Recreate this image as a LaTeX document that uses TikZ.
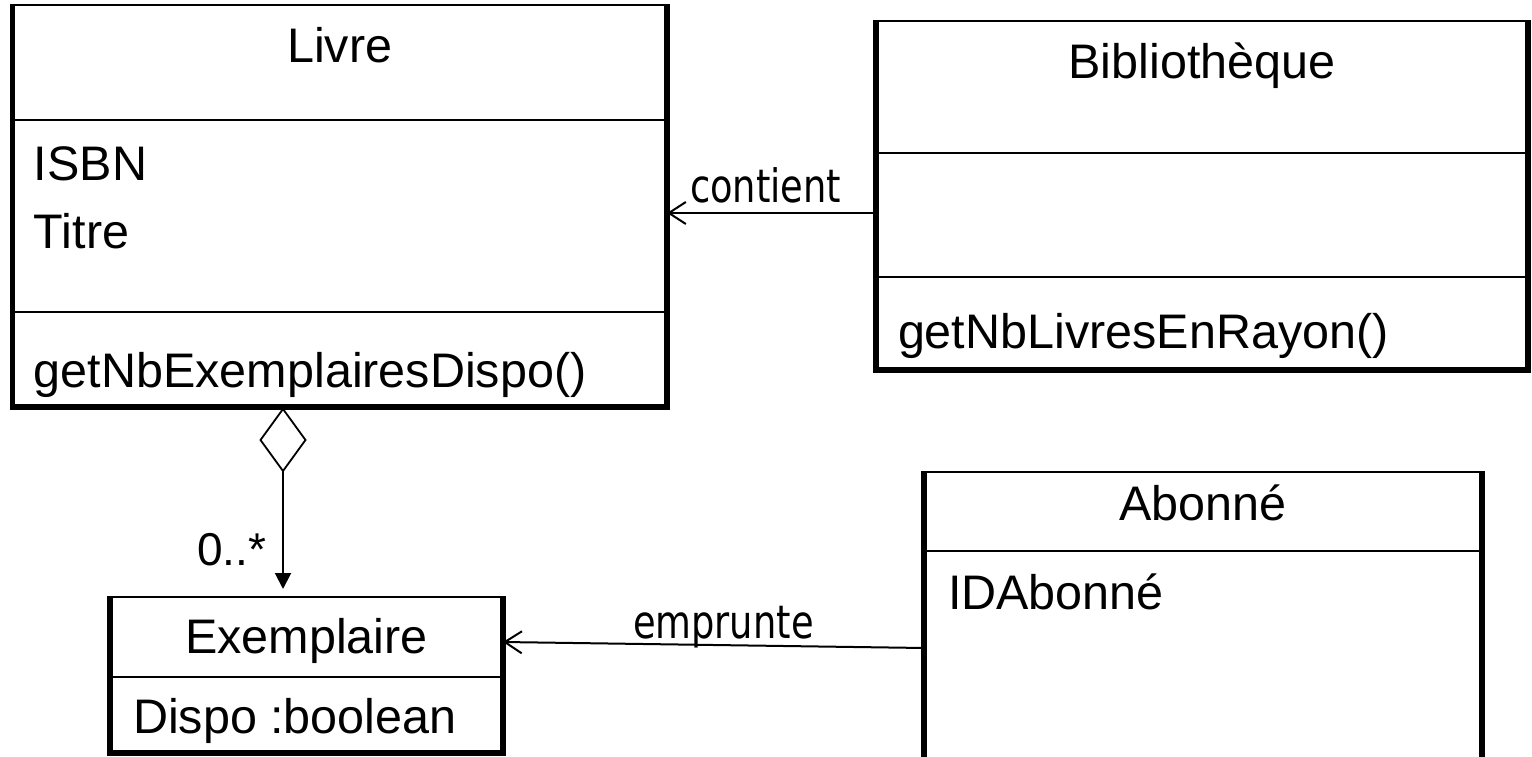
\documentclass[tikz,border=0pt]{standalone}
\usepackage{fontspec}
\setmainfont{Liberation Sans}
\newfontfamily\lblfont{DejaVu Sans}[FakeStretch=0.8]
\usetikzlibrary{arrows.meta,shapes.geometric}
\begin{document}
\begin{tikzpicture}[x=1pt,y=-1pt,
  classbox/.style={rectangle, inner sep=0pt, outer sep=0pt, draw=none},
  thinln/.style={line width=2pt},
  thickln/.style={line width=5.5pt, line join=miter},
  big/.style={font=\fontsize{48.5}{58}\selectfont, inner sep=0pt, outer sep=0pt},
  lbl/.style={font=\lblfont\fontsize{46}{54}\selectfont, inner sep=0pt, outer sep=0pt},
  mult/.style={font=\fontsize{46}{54}\selectfont, inner sep=0pt, outer sep=0pt},
  assoc/.style={line width=2pt, -{Straight Barb[length=17pt,width=22pt,line width=2pt]}},
  compo/.style={line width=2pt, -{Triangle[length=16pt,width=16pt]}},
  aggdiamond/.style={draw, diamond, minimum width=45pt, minimum height=62pt, inner sep=0pt, outer sep=0pt, line width=1.8pt}
]
\useasboundingbox[fill=white] (0,0) rectangle (1532,757);

% class boxes
\node[classbox, minimum width=654.5pt, minimum height=402pt] (livre) at (339.75,206) {};
\node[classbox, minimum width=652pt, minimum height=349pt] (biblio) at (1202,195.5) {};
\node[classbox, minimum width=393pt, minimum height=156pt] (exemplaire) at (306.5,675) {};
\node[classbox, minimum width=558pt, minimum height=285pt] (abonne) at (1203,614.5) {};

\foreach \n in {livre,biblio,exemplaire}{
  \draw[thinln] (\n.north west) -- (\n.north east);
  \draw[thickln] ([yshift=1pt]\n.north west) -- (\n.south west) -- (\n.south east) -- ([yshift=1pt]\n.north east);
}
\draw[thinln] (abonne.north west) -- (abonne.north east);
\draw[thickln] ([yshift=1pt]abonne.north west) -- (abonne.south west);
\draw[thickln] ([yshift=1pt]abonne.north east) -- (abonne.south east);

% compartment separators
\draw[thinln] (livre.west |- 0,120) -- (livre.east |- 0,120);
\draw[thinln] (livre.west |- 0,312) -- (livre.east |- 0,312);
\draw[thinln] (biblio.west |- 0,153) -- (biblio.east |- 0,153);
\draw[thinln] (biblio.west |- 0,277) -- (biblio.east |- 0,277);
\draw[thinln] (exemplaire.west |- 0,677) -- (exemplaire.east |- 0,677);
\draw[thinln] (abonne.west |- 0,551) -- (abonne.east |- 0,551);

% texts
\node[big, anchor=base] (tlivre) at (339.75,63) {Livre};
\node[big, anchor=base west] (tisbn) at (34,180) {ISBN};
\node[big, anchor=base west] (ttitre) at (34,248) {Titre};
\node[big, anchor=base west] (tgetex) at (34,387) {getNbExemplairesDispo()};
\node[big, anchor=base] (tbiblio) at (1202,79) {Bibliothèque};
\node[big, anchor=base west] (tgetlivres) at (898,348) {getNbLivresEnRayon()};
\node[big, anchor=base] (texemp) at (306.5,653) {Exemplaire};
\node[big, anchor=base west] (tdispo) at (133,733) {Dispo :boolean};
\node[big, anchor=base] (tabonne) at (1203,520) {Abonné};
\node[big, anchor=base west] (tidab) at (948,609) {IDAbonné};

% aggregation Livre -> Exemplaire
\node[aggdiamond, anchor=north] (agg) at (283,409) {};
\draw[compo, shorten >=8pt] (agg.south) -- (agg.south |- exemplaire.north);
\node[mult, anchor=base west] (tmult) at (197,565) {0..*};

% association contient
\draw[assoc] ([yshift=-17.5pt]biblio.west) -- ([yshift=-17.5pt]biblio.west -| livre.east);
\node[lbl, anchor=base west] (tcontient) at (690,202) {contient};

% association emprunte
\draw[assoc] ([yshift=-33.5pt]abonne.west) -- ([yshift=33pt]exemplaire.east);
\node[lbl, anchor=base west] (temprunte) at (633,638) {emprunte};
\end{tikzpicture}
\end{document}
